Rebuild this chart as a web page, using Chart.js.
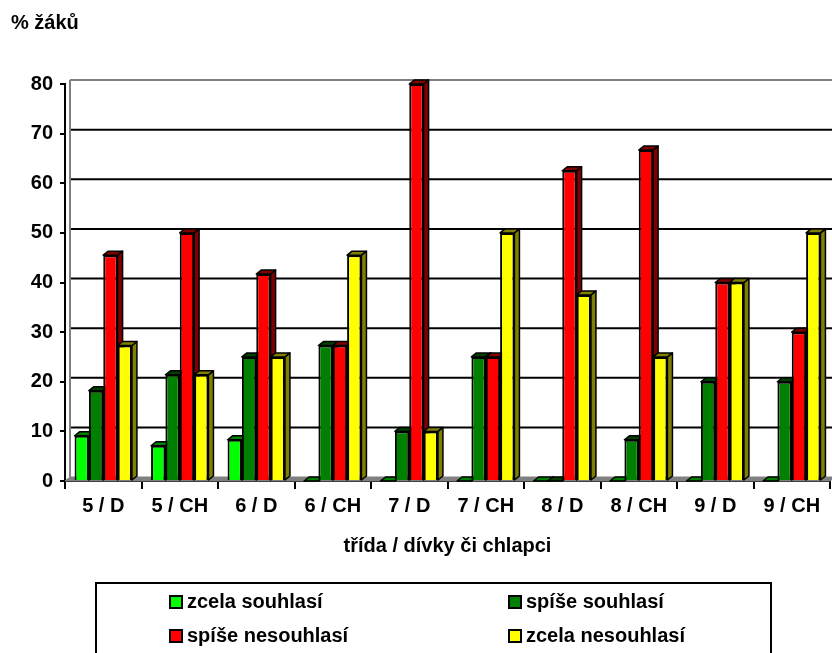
<!DOCTYPE html>
<html>
<head>
<meta charset="utf-8">
<script src="https://cdn.jsdelivr.net/npm/chart.js@4"></script>
<style>
  html, body { margin: 0; padding: 0; background: #fff; }
  #wrap { position: relative; width: 832px; height: 653px; overflow: hidden; }
  #legend {
    position: absolute; left: 95px; top: 582px; width: 673px; height: 120px;
    border: 2px solid #000; box-sizing: content-box;
    font: bold 20px "Liberation Sans", Arial, sans-serif; color: #000;
  }
  .item { position: absolute; display: flex; align-items: center; white-space: nowrap; }
  .box { width: 10px; height: 10px; border: 2px solid #000; margin-right: 4px; }
</style>
</head>
<body>
<div id="wrap">
  <canvas id="myChart" width="832" height="653"></canvas>
  <div id="legend"></div>
</div>
<script>
"use strict";

// categories (třída / dívky či chlapci)
const categories = ["5 / D", "5 / CH", "6 / D", "6 / CH", "7 / D", "7 / CH", "8 / D", "8 / CH", "9 / D", "9 / CH"];

// % žáků per answer
const zcelaSouhlasi   = [9.1, 7.1, 8.3, 0, 0, 0, 0, 0, 0, 0];
const spiseSouhlasi   = [18.2, 21.4, 25, 27.3, 10, 25, 0, 8.3, 20, 20];
const spiseNesouhlasi = [45.5, 50, 41.7, 27.3, 80, 25, 62.5, 66.7, 40, 30];
const zcelaNesouhlasi = [27.3, 21.4, 25, 45.5, 10, 50, 37.5, 25, 40, 50];

const yTicks = [0, 10, 20, 30, 40, 50, 60, 70, 80];

const FONT = "'Liberation Sans', Arial, sans-serif";
const DX = 5, DY = 4; // depth of the 3D look

// front colour, then the darker side/top colour
const colors = [
    ["#00FF00", "#008000"],
    ["#008000", "#004000"],
    ["#FF0000", "#800000"],
    ["#FFFF00", "#808000"]
];

function poly(c, pts, fill) {
    c.beginPath();
    c.moveTo(pts[0][0], pts[0][1]);
    for (let i = 1; i < pts.length; i++) c.lineTo(pts[i][0], pts[i][1]);
    c.closePath();
    c.fillStyle = fill;
    c.fill();
    c.stroke();
}

// back wall, floor and the side/top faces of the bars
const threeD = {
    id: "threeD",
    beforeDatasetsDraw(chart) {
        const c = chart.ctx;
        const a = chart.chartArea;
        const y = chart.scales.y;
        c.save();
        c.beginPath();
        c.rect(a.left, 0, chart.width, a.bottom + 1);
        c.clip();

        // floor
        c.strokeStyle = "#808080";
        c.lineWidth = 1;
        poly(c, [[a.left, a.bottom], [a.left + DX, a.bottom - DY], [a.right + DX, a.bottom - DY], [a.right, a.bottom]], "#808080");

        // grid on the back wall
        c.lineWidth = 2;
        yTicks.forEach(v => {
            if (v === 0) return;
            const py = y.getPixelForValue(v) - DY;
            c.strokeStyle = v === 80 ? "#808080" : "#000";
            c.beginPath();
            c.moveTo(a.left + DX, py);
            c.lineTo(a.right + DX + 5, py);
            c.stroke();
        });
        c.strokeStyle = "#808080";
        c.beginPath();
        c.moveTo(a.left + DX, y.getPixelForValue(80) - DY);
        c.lineTo(a.left + DX, a.bottom - DY);
        c.stroke();

        // side and top faces
        c.strokeStyle = "#000";
        c.lineWidth = 1.5;
        c.lineJoin = "round";
        chart.data.datasets.forEach((ds, i) => {
            const meta = chart.getDatasetMeta(i);
            meta.data.forEach(bar => {
                const p = bar.getProps(["x", "y", "base", "width"], true);
                const l = p.x - p.width / 2, r = p.x + p.width / 2;
                const dark = colors[i][1];
                poly(c, [[r, p.y], [r + DX, p.y - DY], [r + DX, p.base - DY], [r, p.base]], dark);
                poly(c, [[l, p.y], [l + DX, p.y - DY], [r + DX, p.y - DY], [r, p.y]], dark);
            });
        });
        c.restore();
    }
};

const ctx = document.getElementById("myChart").getContext("2d");

let data = {
    labels: categories,
    datasets: [
        { label: "zcela souhlasí", data: zcelaSouhlasi },
        { label: "spíše souhlasí", data: spiseSouhlasi },
        { label: "spíše nesouhlasí", data: spiseNesouhlasi },
        { label: "zcela nesouhlasí", data: zcelaNesouhlasi }
    ].map((d, i) => Object.assign(d, {
        backgroundColor: colors[i][0],
        borderColor: "#000",
        borderWidth: 2,
        categoryPercentage: 0.75,
        barPercentage: 1.0
    }))
};

let config = {
    type: "bar",
    data: data,
    plugins: [threeD],
    options: {
        responsive: false,
        animation: false,
        layout: { padding: { left: 11, right: 2, top: 0, bottom: 92 } },
        plugins: {
            legend: { display: false },
            tooltip: { enabled: false },
            title: {
                display: true,
                text: "% žáků",
                align: "start",
                color: "#000",
                font: { family: FONT, size: 20, weight: "bold" },
                padding: { top: 11, bottom: 49 }
            }
        },
        scales: {
            x: {
                grid: {
                    offset: true,
                    drawOnChartArea: false,
                    drawTicks: true,
                    tickLength: 8,
                    color: "#000",
                    lineWidth: 2
                },
                border: { color: "#000", width: 2 },
                ticks: {
                    color: "#000",
                    padding: 5,
                    maxRotation: 0,
                    font: { family: FONT, size: 20, weight: "bold" }
                },
                title: {
                    display: true,
                    text: "třída / dívky či chlapci",
                    color: "#000",
                    font: { family: FONT, size: 20, weight: "bold" },
                    padding: { top: 4, bottom: 3 }
                },
                afterFit(scale) { scale.height = 80; }
            },
            y: {
                min: 0,
                max: 80,
                grid: {
                    drawOnChartArea: false,
                    drawTicks: true,
                    tickLength: 5,
                    color: "#000",
                    lineWidth: 2
                },
                border: { color: "#000", width: 2 },
                ticks: {
                    stepSize: 10,
                    color: "#000",
                    padding: 7,
                    font: { family: FONT, size: 20, weight: "bold" }
                },
                afterFit(scale) { scale.width = 54; }
            }
        }
    }
};

let myChart = new Chart(ctx, config);

// legend built from the datasets, two columns inside a box
const legend = document.getElementById("legend");
const spots = [[72, 18], [411, 18], [72, 52], [411, 52]];
myChart.data.datasets.forEach((ds, i) => {
    const el = document.createElement("div");
    el.className = "item";
    el.style.left = spots[i][0] + "px";
    el.style.top = (spots[i][1] - 12) + "px";
    el.innerHTML = '<span class="box" style="background:' + ds.backgroundColor + '"></span>' + ds.label;
    legend.appendChild(el);
});
</script>
</body>
</html>
